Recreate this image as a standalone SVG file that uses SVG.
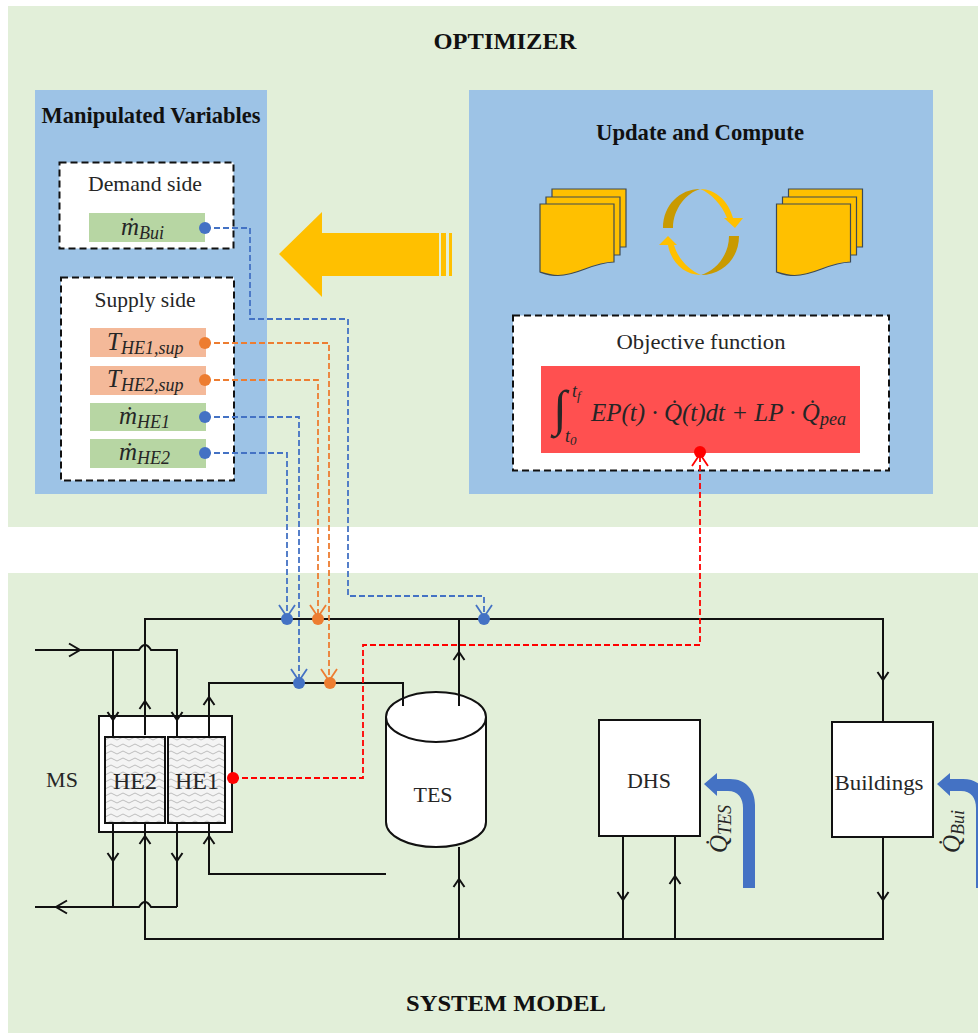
<svg xmlns="http://www.w3.org/2000/svg" width="978" height="1033" viewBox="0 0 978 1033">
<style>
text{font-family:"Liberation Serif","Times New Roman",serif;fill:#262626}
.t{font-size:22px;text-anchor:middle}
.b{font-size:23px;font-weight:bold;text-anchor:middle;fill:#111}
.m{font-style:italic;font-size:25px}
.s{font-style:italic;font-size:18px}
.panel{fill:#E2EFD9}.blue{fill:#9DC3E6}
.dash{fill:#fff;stroke:#111;stroke-width:2;stroke-dasharray:7 4}
.gr{fill:#B7D6A3}.or{fill:#F4B999}
.box{fill:#fff;stroke:#111;stroke-width:2}
.w{fill:none;stroke:#111;stroke-width:2}
.d{fill:none;stroke-width:1.8;stroke-dasharray:6 3}
.doc{fill:#FFC000;stroke:#3d4a55;stroke-width:1.2}
.bl{stroke:#4472C4}.og{stroke:#ED7D31}.rd{stroke:#FF0000}
.fbl{fill:#4472C4}.fog{fill:#ED7D31}.frd{fill:#FF0000}
</style>
<defs>
<marker id="a" markerUnits="userSpaceOnUse" markerWidth="16" markerHeight="16" refX="12" refY="8" orient="auto"><path d="M3,2.5 L11,8 L3,13.500" fill="none" stroke="#111" stroke-width="2"/></marker>
<marker id="A" markerUnits="userSpaceOnUse" markerWidth="20" markerHeight="20" refX="14" refY="10" orient="auto"><path d="M2,3.500 L13,10 L2,16.500" fill="none" stroke="#111" stroke-width="2"/></marker>
<marker id="ab" markerUnits="userSpaceOnUse" markerWidth="20" markerHeight="20" refX="16" refY="10" orient="auto"><path d="M4,2 L16,10 L4,18" fill="none" stroke="#4472C4" stroke-width="1.800"/></marker>
<marker id="ao" markerUnits="userSpaceOnUse" markerWidth="20" markerHeight="20" refX="16" refY="10" orient="auto"><path d="M4,2 L16,10 L4,18" fill="none" stroke="#ED7D31" stroke-width="1.800"/></marker>
<marker id="ar" markerUnits="userSpaceOnUse" markerWidth="20" markerHeight="20" refX="16" refY="10" orient="auto"><path d="M4,2 L16,10 L4,18" fill="none" stroke="#FF0000" stroke-width="1.800"/></marker>
<pattern id="wave" width="12" height="7" patternUnits="userSpaceOnUse"><rect width="12" height="7" fill="#f4f4f4"/><path d="M0,3.500 Q3,0.500 6,3.500 T12,3.500" fill="none" stroke="#bdbdbd" stroke-width="1"/></pattern>
<path id="qarrow" d="M0,0 L13,-11 L13,-5 L26,-5 C42,-5 51,6 51,21 L51,104 L39,104 L39,24 C39,14 34,7 24,7 L13,7 L13,12 Z" fill="#4472C4"/>
<g id="stack">
<path class="doc" d="M552,189 H626 V247 H552 Z"/>
<path class="doc" d="M546,197 H620 V255 H546 Z"/>
<path class="doc" d="M540,204 H614 V262 C590,263 580,275 558,275.500 C550,275.500 546,274 540,272 Z"/>
</g>
</defs>
<rect width="978" height="1033" fill="#fff"/>
<rect id="optimizer-panel" class="panel" x="8" y="6" width="970" height="521"/>
<rect id="system-panel" class="panel" x="8" y="573" width="970" height="460"/>
<text class="b" x="505" y="49" textLength="143" lengthAdjust="spacingAndGlyphs">OPTIMIZER</text>
<text class="b" x="506" y="1011" textLength="200" lengthAdjust="spacingAndGlyphs">SYSTEM MODEL</text>

<g id="manipulated-variables">
<rect class="blue" x="35" y="90" width="232" height="404"/>
<text class="b" x="151" y="123" textLength="219" lengthAdjust="spacingAndGlyphs">Manipulated Variables</text>
</g>
<g id="demand-side">
<rect class="dash" x="59.500" y="162.500" width="174" height="86"/>
<text class="t" x="145" y="191" textLength="114" lengthAdjust="spacingAndGlyphs">Demand side</text>
</g>
<g id="m-bui"><rect class="gr" x="89" y="213" width="116" height="29"/>
<text class="m" x="121" y="235">ṁ<tspan class="s" dy="4">Bui</tspan></text></g>
<g id="supply-side">
<rect class="dash" x="61" y="277.500" width="173" height="203"/>
<text class="t" x="145" y="307" textLength="101" lengthAdjust="spacingAndGlyphs">Supply side</text>
</g>
<g id="t-he1"><rect class="or" x="90" y="328" width="116" height="29"/>
<text class="m" x="107" y="350">T<tspan class="s" dy="4">HE1,sup</tspan></text></g>
<g id="t-he2"><rect class="or" x="90" y="366" width="116" height="29"/>
<text class="m" x="107" y="387">T<tspan class="s" dy="4">HE2,sup</tspan></text></g>
<g id="m-he1"><rect class="gr" x="90" y="403" width="116" height="28"/>
<text class="m" x="119" y="424">ṁ<tspan class="s" dy="4">HE1</tspan></text></g>
<g id="m-he2"><rect class="gr" x="90" y="439" width="116" height="29"/>
<text class="m" x="119" y="460">ṁ<tspan class="s" dy="4">HE2</tspan></text></g>

<g id="big-arrow" fill="#FFC000">
<path d="M279,254 L322,212 V233 H439 V276 H322 V297 Z"/>
<rect x="441" y="233" width="5" height="43"/><rect x="449" y="233" width="3" height="43"/>
</g>

<g id="update-compute">
<rect class="blue" x="469" y="90" width="464" height="404"/>
<text class="b" x="700" y="140" textLength="208" lengthAdjust="spacingAndGlyphs">Update and Compute</text>
<use href="#stack"/>
<use href="#stack" x="236.500"/>
<path fill="#C99A00" d="M663,228 C663,205 680,189 700,189 C687,193 673,208 673,228 Z"/>
<path fill="#FFC000" d="M700,189 C716,189 729,202 733,218 L743,218 L735,228 L724,218 L727,218 C722,205 711,193 700,189 Z"/>
<path fill="#C99A00" d="M739,236 C739,259 722,275 701,275 C715,271 729,256 729,236 Z"/>
<path fill="#FFC000" d="M701,275 C684,275 671,262 668,245 L659,245 L668,236 L677,245 L674,245 C678,259 690,271 701,275 Z"/>
</g>
<g id="objective-function">
<rect class="dash" x="513" y="315.500" width="376" height="155"/>
<text class="t" x="701" y="349" textLength="169" lengthAdjust="spacingAndGlyphs">Objective function</text>
<rect x="541" y="366" width="319" height="87" fill="#FF5050"/>
<text x="553" y="425" font-size="50" font-style="italic">∫</text>
<text class="s" x="572" y="397">t<tspan font-size="13" dy="3">f</tspan></text>
<text class="s" x="565" y="442">t<tspan font-size="13" dy="3">0</tspan></text>
<text class="m" x="591" y="421">EP(t) · Q̇(t)dt + LP · Q̇<tspan class="s" dy="4">pea</tspan></text>
</g>

<g id="he-unit">
<rect class="box" x="99" y="716" width="133" height="116"/>
<text class="t" x="62" y="787">MS</text>
</g>
<g id="he2"><rect x="105" y="737" width="60" height="86" fill="url(#wave)" stroke="#111" stroke-width="2"/>
<text class="t" x="135" y="789" style="font-size:24px">HE2</text></g>
<g id="he1"><rect x="168" y="737" width="57" height="86" fill="url(#wave)" stroke="#111" stroke-width="2"/>
<text class="t" x="197" y="789" style="font-size:24px">HE1</text></g>
<g id="tes">
<path d="M386,717 V822 C386,836 408,847 436,847 S486,836 486,822 V717" fill="#fff" stroke="#111" stroke-width="2"/>
<ellipse cx="436" cy="717" rx="50" ry="25" fill="#fff" stroke="#111" stroke-width="2"/>
<text class="t" x="433" y="802">TES</text>
</g>
<g id="dhs"><rect class="box" x="599" y="720" width="101" height="116"/>
<text class="t" x="649" y="788">DHS</text></g>
<g id="buildings"><rect class="box" x="832" y="722" width="101" height="115"/>
<text class="t" x="879" y="790" textLength="89" lengthAdjust="spacingAndGlyphs">Buildings</text></g>

<g id="connectors">
<g>
<path class="w" d="M145,735 V619 H883 V722"/>
<path class="w" d="M145,735 V700" marker-end="url(#a)"/>
<path class="w" d="M883,619 V681" marker-end="url(#a)"/>
<path class="w" d="M459,706 V619"/>
<path class="w" d="M459,706 V651" marker-end="url(#a)"/>
<path class="w" d="M209,736 V683 H403 V706"/>
<path class="w" d="M209,736 V696" marker-end="url(#a)"/>
<path class="w" d="M35,650 H139 Q145,640 151,650 H177 V737"/>
<path class="w" d="M35,650 H81" marker-end="url(#A)"/>
<path class="w" d="M113,650 V737"/>
<path class="w" d="M113,650 V721" marker-end="url(#a)"/>
<path class="w" d="M177,650 V721" marker-end="url(#a)"/>
<path class="w" d="M113,823 V907"/>
<path class="w" d="M113,823 V862" marker-end="url(#a)"/>
<path class="w" d="M177,823 V907"/>
<path class="w" d="M177,823 V862" marker-end="url(#a)"/>
<path class="w" d="M35,907 H139 Q145,897 151,907 H177"/>
<path class="w" d="M90,907 H55" marker-end="url(#A)"/>
<path class="w" d="M145,823 V939 H883 V837"/>
<path class="w" d="M145,939 V835" marker-end="url(#a)"/>
<path class="w" d="M209,823 V874 H386"/>
<path class="w" d="M209,874 V835" marker-end="url(#a)"/>
<path class="w" d="M459,939 V847"/>
<path class="w" d="M459,939 V878" marker-end="url(#a)"/>
<path class="w" d="M623,836 V939"/>
<path class="w" d="M623,836 V901" marker-end="url(#a)"/>
<path class="w" d="M675,939 V836"/>
<path class="w" d="M675,939 V875" marker-end="url(#a)"/>
<path class="w" d="M883,837 V901" marker-end="url(#a)"/>
</g>
<path class="d bl" d="M205,228 H250 V319 H348 V596 H484 V617" marker-end="url(#ab)"/>
<path class="d og" d="M205,343 H329 V681" marker-end="url(#ao)"/>
<path class="d og" d="M205,380 H318 V617" marker-end="url(#ao)"/>
<path class="d bl" d="M205,417 H299 V681" marker-end="url(#ab)"/>
<path class="d bl" d="M205,453 H287 V617" marker-end="url(#ab)"/>
<path class="d rd" d="M233,778 H363 V645 H700 V454" marker-end="url(#ar)"/>
<g class="fbl">
<circle cx="205" cy="228" r="6"/><circle cx="205" cy="417" r="6"/><circle cx="205" cy="453" r="6"/>
<circle cx="287" cy="619" r="6"/><circle cx="484" cy="619" r="6"/><circle cx="299" cy="683" r="6"/>
</g>
<g class="fog">
<circle cx="205" cy="343" r="6"/><circle cx="205" cy="380" r="6"/>
<circle cx="318" cy="619" r="6"/><circle cx="330" cy="683" r="6"/>
</g>
<g class="frd"><circle cx="233" cy="778" r="6"/><circle cx="700" cy="452" r="6"/></g>
</g>

<g id="q-tes"><use href="#qarrow" x="704" y="784"/>
<text class="m" transform="translate(727,853) rotate(-90)">Q̇<tspan class="s" dy="4">TES</tspan></text></g>
<g id="q-bui"><use href="#qarrow" x="937" y="784"/>
<text class="m" transform="translate(960,853) rotate(-90)">Q̇<tspan class="s" dy="4">Bui</tspan></text></g>
</svg>
